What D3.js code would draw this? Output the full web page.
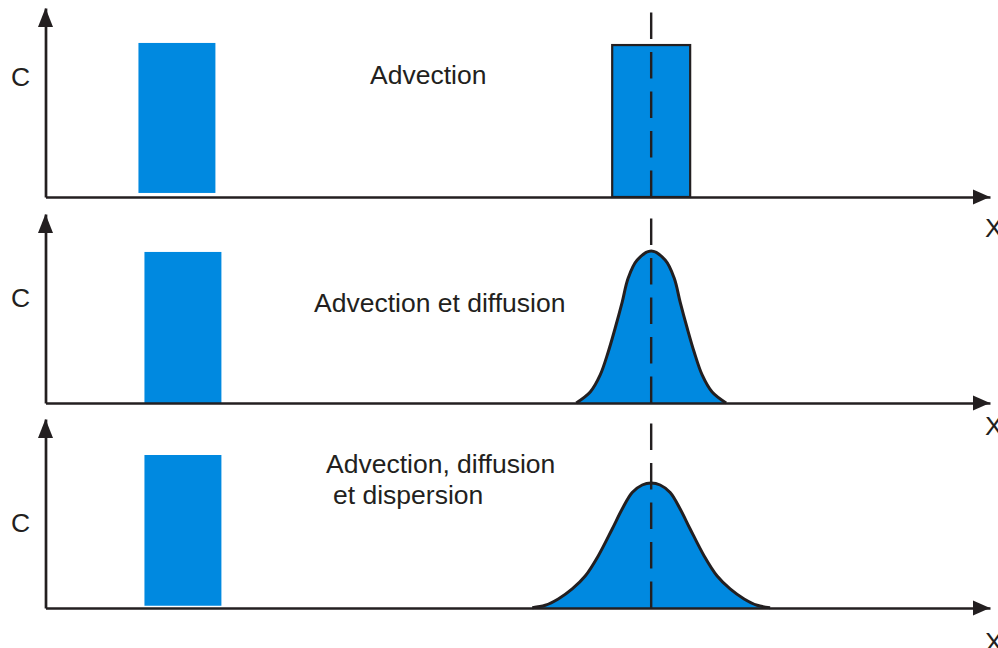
<!DOCTYPE html>
<html>
<head>
<meta charset="utf-8">
<script src="https://cdn.jsdelivr.net/npm/d3@7"></script>
<style>
  html, body { margin: 0; padding: 0; background: #fff; }
  svg { display: block; }
  text { font-family: "Liberation Sans", Arial, sans-serif; fill: #231f20; }
</style>
</head>
<body>
<svg id="chart" width="998" height="648"></svg>
<script>
// ---------- data (x in distance units, C in units of the initial pulse height) ----------
const panelTitles = [["Advection"], ["Advection et diffusion"], ["Advection, diffusion", "et dispersion"]];
const axisLabelY = "C";
const axisLabelX = "X";

// initial pulse (source) in each panel
const sourceX0 = [9.3, 9.9, 9.9];
const sourceX1 = [17.0, 17.6, 17.6];
const sourceC0 = [0.027, 0.0, 0.015];
const sourceC1 = [1.027, 1.007, 1.02];

// centre of mass after transport
const plumeCentre = 60.6;
const centreLineC = 1.23;

// panel 1 : pure advection (pulse translated)
const advX0 = 56.7;
const advX1 = 64.5;
const advC = 1.013;

// panel 2 : advection + diffusion (offset from centre, concentration)
const diffOffset = [-7.5, -6.1, -5.1, -4.3, -3.6, -2.9, -2.3, -1.4, 0, 1.4, 2.3, 2.9, 3.6, 4.3, 5.1, 6.1, 7.5];
const diffC      = [0, 0.073, 0.187, 0.34, 0.5, 0.673, 0.833, 0.953, 1.013, 0.953, 0.833, 0.673, 0.5, 0.34, 0.187, 0.073, 0];

// panel 3 : advection + diffusion + dispersion
const dispOffset = [-11.9, -10.6, -9.3, -7.9, -6.6, -5.3, -3.9, -2.9, -1.9, -0.9, 0, 0.9, 1.9, 2.9, 3.9, 5.3, 6.6, 7.9, 9.3, 10.6, 11.9];
const dispC      = [0.002, 0.018, 0.06, 0.127, 0.213, 0.347, 0.527, 0.66, 0.77, 0.82, 0.833, 0.82, 0.77, 0.66, 0.527, 0.347, 0.213, 0.127, 0.06, 0.018, 0.002];

// ---------- drawing ----------
const INK = "#231f20";
const BLUE = "#0089e0";
const svg = d3.select("#chart");

const x = d3.scaleLinear().domain([0, 94.5]).range([45.5, 990]);
const baselines = [197, 403, 608];
const yMax = 1.26;
const FS = 26.5;

const titlePos = [
  [[370, 84]],
  [[314, 312]],
  [[326, 473], [333, 504]]
];
const cLabelBase = [86, 307, 532];
const xLabelBase = [237, 435, 651];

baselines.forEach((b, i) => {
  const y = d3.scaleLinear().domain([0, yMax]).range([b, b - 189]);
  const g = svg.append("g");

  // source pulse
  g.append("rect")
    .attr("x", x(sourceX0[i]))
    .attr("width", x(sourceX1[i]) - x(sourceX0[i]))
    .attr("y", y(sourceC1[i]))
    .attr("height", y(sourceC0[i]) - y(sourceC1[i]))
    .attr("fill", BLUE);

  // transported plume
  if (i === 0) {
    g.append("rect")
      .attr("x", x(advX0))
      .attr("width", x(advX1) - x(advX0))
      .attr("y", y(advC))
      .attr("height", y(0) - y(advC))
      .attr("fill", BLUE)
      .attr("stroke", INK)
      .attr("stroke-width", 2.2);
  } else {
    const off = i === 1 ? diffOffset : dispOffset;
    const cs = i === 1 ? diffC : dispC;
    const pts = off.map((o, k) => [plumeCentre + o, cs[k]]);
    const curve = d3.curveCatmullRom.alpha(0.5);
    const area = d3.area()
      .x(d => x(d[0])).y0(y(0)).y1(d => y(d[1]))
      .curve(curve);
    const line = d3.line()
      .x(d => x(d[0])).y(d => y(d[1]))
      .curve(curve);
    g.append("path").attr("d", area(pts)).attr("fill", BLUE);
    g.append("path").attr("d", line(pts))
      .attr("fill", "none").attr("stroke", INK).attr("stroke-width", 3)
      .attr("stroke-linejoin", "round");
  }

  // axes (domain lines only)
  const xAxis = d3.axisBottom(x).ticks(0).tickSizeOuter(0);
  const yAxis = d3.axisLeft(y).ticks(0).tickSizeOuter(0);
  const xa = g.append("g").attr("transform", `translate(0,${y(0)})`).call(xAxis);
  const ya = g.append("g").attr("transform", `translate(${x(0)},0)`).call(yAxis);
  [xa, ya].forEach(a => a.select(".domain").attr("stroke", INK).attr("stroke-width", 2.7));

  // arrowheads
  const tx = x(94.5), ty = y(0);
  g.append("path")
    .attr("d", `M${tx},${ty} L${tx - 17},${ty - 7.5} L${tx - 17},${ty + 7.5} Z`)
    .attr("fill", INK);
  const ax = x(0), ay = y(yMax);
  g.append("path")
    .attr("d", `M${ax},${ay} L${ax - 7.5},${ay + 19} L${ax + 7.5},${ay + 19} Z`)
    .attr("fill", INK);

  // dashed centre line
  g.append("line")
    .attr("x1", x(plumeCentre)).attr("x2", x(plumeCentre))
    .attr("y1", y(0)).attr("y2", y(centreLineC))
    .attr("stroke", INK).attr("stroke-width", 2.4)
    .attr("stroke-dasharray", "26.5,13");

  // labels
  g.append("text").attr("x", 11).attr("y", cLabelBase[i])
    .attr("font-size", FS).text(axisLabelY);
  g.append("text").attr("x", 985).attr("y", xLabelBase[i])
    .attr("font-size", FS).text(axisLabelX);
  panelTitles[i].forEach((t, k) => {
    g.append("text")
      .attr("x", titlePos[i][k][0]).attr("y", titlePos[i][k][1])
      .attr("font-size", FS).text(t);
  });
});
</script>
</body>
</html>
